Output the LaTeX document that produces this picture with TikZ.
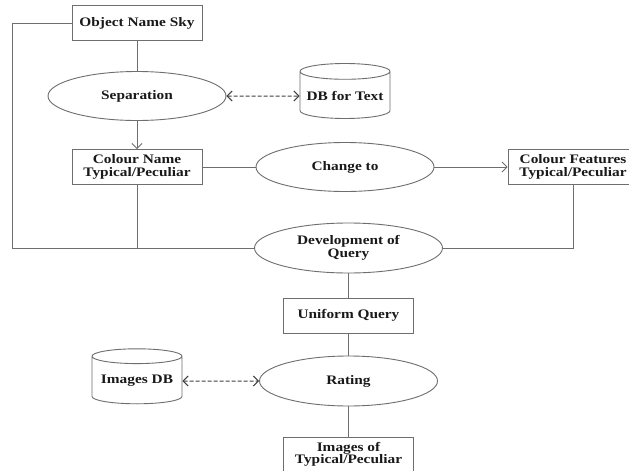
\documentclass[tikz,border=0pt]{standalone}
\usepackage{fontspec}
\setmainfont{Liberation Serif}[FakeStretch=1.18]
\usetikzlibrary{shapes.geometric,arrows.meta}
\definecolor{linegray}{RGB}{110,110,110}

\begin{document}
\begin{tikzpicture}[x=1pt, y=-1pt, line width=0.9pt,
    every node/.style={font=\fontsize{13}{12.5}\selectfont\bfseries, align=center, text=black!90},
    box/.style={draw=linegray, rectangle, minimum width=130pt, minimum height=35pt, inner sep=1pt},
    proc/.style={draw=linegray, ellipse, minimum width=178pt, minimum height=49pt, inner sep=1pt},
    store/.style={draw=linegray, cylinder, shape border rotate=90, aspect=0.2, minimum width=90pt, minimum height=55pt, inner sep=1pt},
    flow/.style={draw=linegray},
    arr/.style={flow, -{Straight Barb[length=5pt,width=10pt]}},
    dbarr/.style={draw=black!75, line width=1pt, {Straight Barb[length=5pt,width=10pt]}-{Straight Barb[length=5pt,width=10pt]}, dash pattern=on 4pt off 2pt}]
                \useasboundingbox[fill=white] (0,0) rectangle (629,471);

                \node[box] (objname) at (137,23) {Object Name Sky};
                \node[proc] (separation) at (137,96) {Separation};
                \node[store] (dbtext) at (345,96) {DB for Text};
                \node[box] (colname) at (137,167) {Colour Name\\Typical/Peculiar};
                \node[proc] (change) at (345,167) {Change to};
                \node[box] (colfeat) at (573,167) {Colour Features\\Typical/Peculiar};
                \node[proc, minimum width=188pt, minimum height=50pt] (devquery) at (348.5,248) {Development of\\Query};
                \node[box] (uniquery) at (348.5,315.5) {Uniform Query};
                \node[proc, minimum height=50pt] (rating) at (348.5,381) {Rating};
                \node[store] (imgdb) at (137,381) {Images DB};
                \node[box] (imgout) at (348.5,454.5) {Images of\\Typical/Peculiar};
                \coordinate (loop) at (12,248);

                \draw[flow] (objname.south) -- (separation.north);
                \draw[arr] (separation.south) -- (colname.north);
                \draw[dbarr] (separation.east) -- (dbtext.west);
                \draw[flow] (colname.east) -- (change.west);
                \draw[arr] (change.east) -- (colfeat.west);
                \draw[flow] (objname.west) -| (loop) -- (devquery.west);
                \draw[flow] (colname.south) -- (colname.south |- loop);
                \draw[flow] (colfeat.south) |- (devquery.east);
                \draw[flow] (devquery.south) -- (uniquery.north);
                \draw[flow] (uniquery.south) -- (rating.north);
                \draw[flow] (rating.south) -- (imgout.north);
                \draw[dbarr] (imgdb.east) -- (rating.west);
            \end{tikzpicture}
\end{document}
